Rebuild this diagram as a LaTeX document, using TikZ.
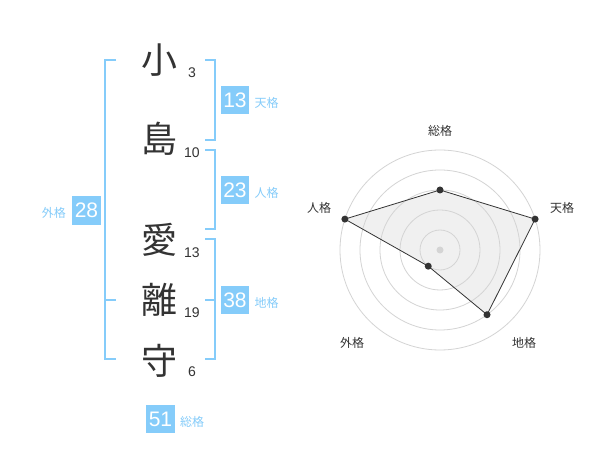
\documentclass[tikz,border=0pt]{standalone}
\usepackage{fontspec}
\setmainfont{Liberation Sans}
\newfontfamily\jp{Noto Sans CJK JP}
\usetikzlibrary{positioning}

\definecolor{kakublue}{RGB}{133,204,250}
\definecolor{inkgray}{RGB}{51,51,51}
\definecolor{ringgray}{RGB}{212,212,212}
\definecolor{areagray}{RGB}{240,240,240}

\tikzset{
  kanji/.style={font=\jp\fontsize{36}{36}\selectfont, text=inkgray, inner sep=0pt},
  strokes/.style={font=\fontsize{14}{14}\selectfont, text=inkgray, inner sep=0pt},
  kakubox/.style={fill=kakublue, text=white, minimum size=28.5pt, inner sep=0pt, font=\fontsize{21}{21}\selectfont},
  kakuname/.style={font=\jp\fontsize{12}{12}\selectfont, text=kakublue, inner sep=0pt},
  bracket/.style={draw=kakublue, line width=2pt},
  axisname/.style={font=\jp\fontsize{12}{12}\selectfont, text=inkgray, inner sep=0pt},
  dot/.style={circle, fill=inkgray, inner sep=0pt, minimum size=7pt},
}

\begin{document}
\begin{tikzpicture}[x=1pt,y=-1pt]

    % white page with the reference's margins
    \useasboundingbox[fill=white] (0,0) rectangle (600,470);

    % name characters and their stroke counts
    \node[kanji] (c1) at (159,60) {小};
    \node[kanji] (c2) at (159,139) {島};
    \node[kanji] (c3) at (159,240) {愛};
    \node[kanji] (c4) at (159,300) {離};
    \node[kanji] (c5) at (159,361) {守};
    \node[strokes] (n1) at (192,73) {3};
    \node[strokes] (n2) at (192,153) {10};
    \node[strokes] (n3) at (192,253) {13};
    \node[strokes] (n4) at (192,313) {19};
    \node[strokes] (n5) at (192,372) {6};

    % brackets
    \draw[bracket] (116,60) -- (105,60) -- (105,359) -- (116,359);
    \draw[bracket] (105,300) -- (116,300);
    \draw[bracket] (205,60) -- (215,60) -- (215,140) -- (205,140);
    \draw[bracket] (205,150) -- (215,150) -- (215,229) -- (205,229);
    \draw[bracket] (205,239) -- (215,239) -- (215,359) -- (205,359);
    \draw[bracket] (205,300) -- (215,300);

    % boxes with the sums
    \node[kakubox] (ten) at (235,100) {13};
    \node[kakubox] (jin) at (235,190) {23};
    \node[kakubox] (chi) at (235,300) {38};
    \node[kakubox] (gai) at (86.5,210.5) {28};
    \node[kakubox] (sou) at (160.5,419) {51};
    \node[kakuname, anchor=base west] (tenname) at ([xshift=5pt]ten.base east) {天格};
    \node[kakuname, anchor=base west] (jinname) at ([xshift=5pt]jin.base east) {人格};
    \node[kakuname, anchor=base west] (chiname) at ([xshift=5pt]chi.base east) {地格};
    \node[kakuname, anchor=base east] (gainame) at ([xshift=-6pt]gai.base west) {外格};
    \node[kakuname, anchor=base west] (souname) at ([xshift=5pt]sou.base east) {総格};

    % radar chart
    \begin{scope}[shift={(440,250)}, yscale=-1]
        \coordinate (psou) at (90:60);
        \coordinate (pten) at (18:100);
        \coordinate (pchi) at (-54:80);
        \coordinate (pgai) at (-126:20);
        \coordinate (pjin) at (162:100);
        \fill[areagray] (psou) -- (pten) -- (pchi) -- (pgai) -- (pjin) -- cycle;

        \foreach \r in {20,40,...,100}
            \draw[ringgray, line width=0.8pt] (0,0) circle (\r);
        \node[circle, fill=ringgray, inner sep=0pt, minimum size=7pt] (mid) at (0,0) {};

        \draw[inkgray, line width=0.8pt]
            (psou) -- (pten) -- (pchi) -- (pgai) -- (pjin) -- cycle;
        \foreach \p in {psou,pten,pchi,pgai,pjin}
            \node[dot] at (\p) {};

        \node[axisname] (asou) at (0,119) {総格};
        \node[axisname] (aten) at (122,42) {天格};
        \node[axisname] (ajin) at (-121,42) {人格};
        \node[axisname] (achi) at (84,-93) {地格};
        \node[axisname] (agai) at (-88,-93) {外格};
    \end{scope}
\end{tikzpicture}
\end{document}
